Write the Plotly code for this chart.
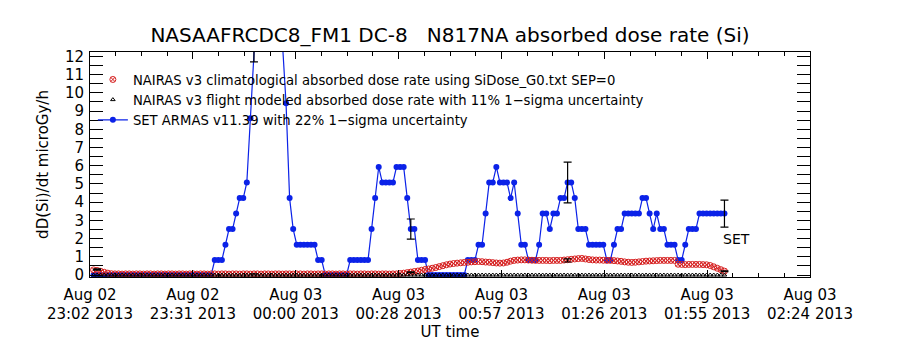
import plotly.graph_objects as go

# minutes after 2013-08-02 23:02 UT (1-minute cadence)
minutes = list(range(1, 179))

# SET ARMAS v11.39 absorbed dose rate (microGy/h)
set_armas = [
    0, 0, 0, 0, 0, 0, 0, 0, 0, 0,
    0, 0, 0, 0, 0, 0, 0, 0, 0, 0,
    0, 0, 0, 0, 0, 0, 0, 0, 0, 0,
    0, 0, 0, 0, 0.82, 0.82, 0.82, 1.66, 2.52, 2.52,
    3.37, 4.22, 4.22, 5.08, 8.6, 15.0, 17.5, 19.2, 20.1, 19.6,
    18.4, 16.8, 14.9, 12.7, 9.43, 4.22, 2.52, 1.66, 1.66, 1.66,
    1.66, 1.66, 1.66, 0.82, 0.82, 0, 0, 0, 0, 0,
    0, 0, 0.82, 0.82, 0.82, 0.82, 0.82, 0.82, 2.52, 4.22,
    5.93, 5.08, 5.08, 5.08, 5.08, 5.93, 5.93, 5.93, 4.22, 2.52,
    2.52, 0.82, 0.82, 0.82, 0, 0, 0, 0, 0, 0,
    0, 0, 0, 0, 0, 0.82, 0.82, 0.82, 1.66, 1.66,
    3.37, 5.08, 5.08, 5.93, 5.08, 5.08, 5.08, 4.22, 5.08, 3.37,
    1.66, 1.66, 0.82, 0.82, 0.82, 1.66, 3.37, 3.37, 2.52, 3.37,
    3.37, 4.22, 4.22, 5.08, 5.08, 4.22, 2.52, 2.52, 2.52, 1.66,
    1.66, 1.66, 1.66, 1.66, 0.82, 0.82, 1.66, 2.52, 2.52, 3.37,
    3.37, 3.37, 3.37, 3.37, 4.22, 4.22, 3.37, 2.52, 3.37, 2.52,
    2.52, 1.66, 1.66, 1.66, 0.82, 0.82, 1.66, 2.52, 2.52, 2.52,
    3.37, 3.37, 3.37, 3.37, 3.37, 3.37, 3.37, 3.37,
]

# NAIRAS v3 climatological absorbed dose rate
nairas_clim = [
    0.28, 0.25, 0.20, 0.15, 0.10, 0.07, 0.06, 0.06, 0.05, 0.06,
    0.06, 0.05, 0.06, 0.06, 0.05, 0.06, 0.06, 0.05, 0.06, 0.06,
    0.05, 0.06, 0.06, 0.05, 0.06, 0.06, 0.05, 0.06, 0.06, 0.05,
    0.06, 0.06, 0.05, 0.06, 0.06, 0.05, 0.06, 0.06, 0.05, 0.06,
    0.06, 0.05, 0.06, 0.06, 0.05, 0.06, 0.06, 0.05, 0.06, 0.06,
    0.05, 0.06, 0.06, 0.05, 0.06, 0.06, 0.05, 0.06, 0.06, 0.05,
    0.06, 0.06, 0.05, 0.06, 0.06, 0.05, 0.06, 0.06, 0.05, 0.06,
    0.06, 0.05, 0.06, 0.06, 0.05, 0.06, 0.06, 0.05, 0.06, 0.06,
    0.05, 0.06, 0.06, 0.05, 0.06, 0.06, 0.08, 0.10, 0.13, 0.16,
    0.19, 0.22, 0.26, 0.30, 0.33, 0.37, 0.41, 0.46, 0.51, 0.56,
    0.60, 0.63, 0.65, 0.67, 0.69, 0.70, 0.72, 0.73, 0.74, 0.73,
    0.71, 0.70, 0.68, 0.66, 0.65, 0.66, 0.70, 0.76, 0.80, 0.82,
    0.83, 0.83, 0.82, 0.81, 0.80, 0.80, 0.80, 0.80, 0.79, 0.80,
    0.80, 0.80, 0.82, 0.84, 0.86, 0.88, 0.90, 0.91, 0.88, 0.85,
    0.83, 0.82, 0.82, 0.81, 0.80, 0.80, 0.79, 0.77, 0.75, 0.72,
    0.70, 0.69, 0.70, 0.72, 0.74, 0.76, 0.77, 0.78, 0.79, 0.80,
    0.80, 0.80, 0.80, 0.80, 0.59, 0.58, 0.57, 0.58, 0.58, 0.58,
    0.58, 0.57, 0.56, 0.52, 0.45, 0.37, 0.29, 0.21,
]

# NAIRAS v3 flight modeled absorbed dose rate (plotted at the bottom)
nairas_flight = [
    0, 0, 0, 0, 0, 0, 0, 0, 0, 0, 0, 0, 0, 0, 0, 0, 0, 0, 0, 0,
    0, 0, 0, 0, 0, 0, 0, 0, 0, 0, 0, 0, 0, 0, 0, 0, 0, 0, 0, 0,
    0, 0, 0, 0, 0, 0, 0, 0, 0, 0, 0, 0, 0, 0, 0, 0, 0, 0, 0, 0,
    0, 0, 0, 0, 0, 0, 0, 0, 0, 0, 0, 0, 0, 0, 0, 0, 0, 0, 0, 0,
    0, 0, 0, 0, 0, 0, 0, 0, 0, 0, 0, 0, 0, 0, 0, 0, 0, 0, 0, 0,
    0, 0, 0, 0, 0, 0, 0, 0, 0, 0, 0, 0, 0, 0, 0, 0, 0, 0, 0, 0,
    0, 0, 0, 0, 0, 0, 0, 0, 0, 0, 0, 0, 0, 0, 0, 0, 0, 0, 0, 0,
    0, 0, 0, 0, 0, 0, 0, 0, 0, 0, 0, 0, 0, 0, 0, 0, 0, 0, 0, 0,
    0, 0, 0, 0, 0, 0, 0, 0, 0, 0, 0, 0, 0, 0, 0, 0, 0, 0,
]

# uncertainty markers
set_err_minutes = [46, 90, 134, 178]
set_err_values = [15.0, 2.52, 5.08, 3.37]
SET_SIGMA_PCT = 22
flight_err_minutes = [2, 46, 90, 134, 178]
flight_err_values = [0.30, 0.06, 0.16, 0.80, 0.21]
FLIGHT_SIGMA_PCT = 11

# axis tick labels
tick_date = ["Aug 02", "Aug 02", "Aug 03", "Aug 03", "Aug 03", "Aug 03", "Aug 03", "Aug 03"]
tick_time = ["23:02 2013", "23:31 2013", "00:00 2013", "00:28 2013",
             "00:57 2013", "01:26 2013", "01:55 2013", "02:24 2013"]
X_SPAN = 202  # minutes from 23:02 to 02:24
tick_pos = [i * X_SPAN / 7 for i in range(8)]
minor_pos = [i * X_SPAN / 28 for i in range(29)]

BLUE = "#0b22e8"
RED = "#d62020"
FONT = "DejaVu Sans"

fig = go.Figure()

fig.add_trace(go.Scatter(
    x=minutes, y=set_armas, mode="lines+markers",
    name="SET ARMAS v11.39 with 22% 1\u2212sigma uncertainty",
    line=dict(color=BLUE, width=1.2),
    marker=dict(symbol="circle", size=6, color=BLUE),
    legendrank=3,
))
fig.add_trace(go.Scatter(
    x=minutes, y=nairas_clim, mode="markers",
    name="NAIRAS v3 climatological absorbed dose rate using SiDose_G0.txt SEP=0",
    marker=dict(symbol="circle-x-open", size=6, color=RED, line=dict(width=1, color=RED)),
    legendrank=1,
))
fig.add_trace(go.Scatter(
    x=minutes, y=nairas_flight, mode="markers",
    name="NAIRAS v3 flight modeled absorbed dose rate with 11% 1\u2212sigma uncertainty",
    marker=dict(symbol="triangle-up-open", size=4, color="black", line=dict(width=1, color="black")),
    legendrank=2,
))
fig.add_trace(go.Scatter(
    x=set_err_minutes, y=set_err_values, mode="markers", showlegend=False,
    marker=dict(size=1, opacity=0),
    error_y=dict(type="percent", value=SET_SIGMA_PCT,
                 color="black", thickness=1.2, width=4),
    hoverinfo="skip",
))
fig.add_trace(go.Scatter(
    x=flight_err_minutes, y=flight_err_values, mode="markers", showlegend=False,
    marker=dict(size=1, opacity=0),
    error_y=dict(type="percent", value=FLIGHT_SIGMA_PCT,
                 color="black", thickness=1.2, width=4),
    hoverinfo="skip",
))
# helper trace for second row of x tick labels
fig.add_trace(go.Scatter(x=[], y=[], xaxis="x2", showlegend=False, hoverinfo="skip"))

fig.add_annotation(
    x=minutes[-1], y=set_armas[-1] * (1 - SET_SIGMA_PCT / 100), text="SET", showarrow=False,
    xanchor="left", yanchor="top", xshift=-3, yshift=-2,
    font=dict(family=FONT, size=14, color="black"),
)

fig.update_layout(
    width=900, height=350,
    margin=dict(l=90, r=90, t=52, b=70),
    paper_bgcolor="white", plot_bgcolor="white",
    font=dict(family=FONT, size=15, color="black"),
    title=dict(text="NASAAFRCDC8_FM1 DC-8\u00a0\u00a0\u00a0N817NA absorbed dose rate (Si)",
               x=0.5, xanchor="center", y=1, yanchor="top", pad=dict(t=28),
               font=dict(family=FONT, size=20, color="black")),
    showlegend=True,
    legend=dict(x=0.004, y=0.945, xanchor="left", yanchor="top",
                bgcolor="rgba(0,0,0,0)", font=dict(family=FONT, size=13.2, color="black"),
                itemwidth=30, tracegroupgap=0),
    xaxis=dict(
        range=[0, X_SPAN], showgrid=False, zeroline=False,
        showline=True, linecolor="black", linewidth=1, mirror="allticks",
        ticks="inside", ticklen=7, tickcolor="black",
        tickmode="array", tickvals=tick_pos, ticktext=tick_date,
        ticklabelstandoff=4,
        minor=dict(tickmode="array", tickvals=minor_pos, ticks="inside", ticklen=4, tickcolor="black"),
        title=dict(text="UT time", standoff=23, font=dict(size=15)),
        tickfont=dict(size=15),
    ),
    xaxis2=dict(
        range=[0, X_SPAN], overlaying="x", side="bottom", anchor="y",
        showgrid=False, zeroline=False, showline=False, ticks="",
        tickmode="array", tickvals=tick_pos, ticktext=tick_time,
        ticklabelstandoff=26, tickfont=dict(size=15),
    ),
    yaxis=dict(
        range=[-0.11, 12.24], showgrid=False, zeroline=False,
        showline=True, linecolor="black", linewidth=1, mirror="allticks",
        ticks="inside", ticklen=13, tickcolor="black", dtick=1, tick0=0,
        minor=dict(dtick=0.5, ticks="inside", ticklen=13, tickcolor="black"),
        ticklabelstandoff=2,
        title=dict(text="dD(Si)/dt microGy/h", standoff=12, font=dict(size=15)),
        tickfont=dict(size=15),
    ),
)

fig.write_html("out.html")
